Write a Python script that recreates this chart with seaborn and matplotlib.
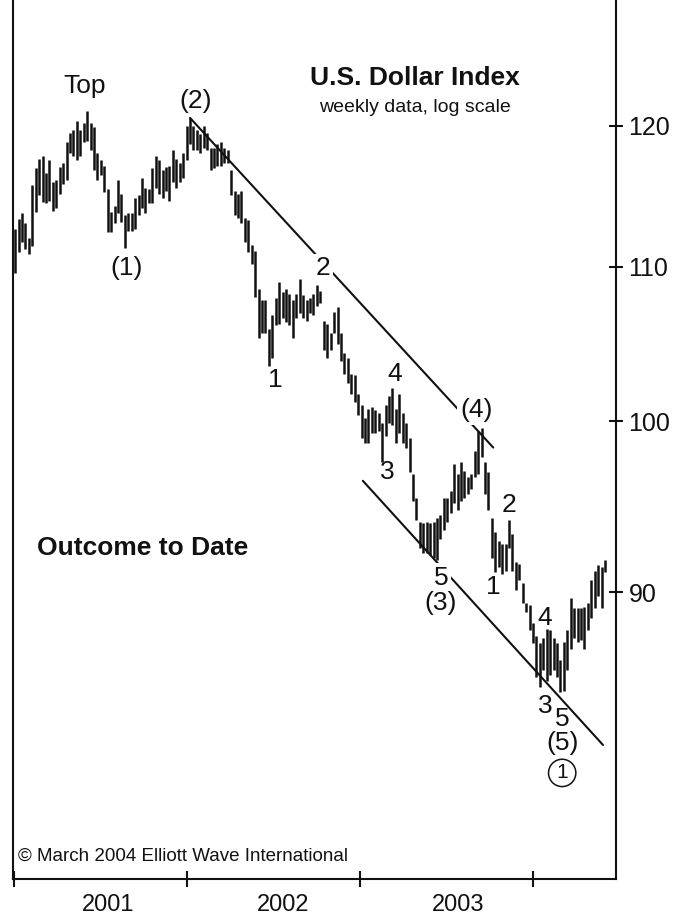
import numpy as np
import pandas as pd
import seaborn as sns
import matplotlib
matplotlib.use("Agg")
import matplotlib.pyplot as plt

sns.set_theme(style="ticks")
plt.rcParams["font.family"] = ["Liberation Sans", "DejaVu Sans"]

# weekly high / low of the U.S. Dollar Index
week_high = [
    112.6, 113.3, 113.7, 113.0, 112.0, 115.7, 116.9, 117.6, 117.8, 116.6,
    117.5, 115.9, 116.1, 117.0, 117.3, 118.8, 119.5, 119.7, 120.4, 119.7,
    120.2, 121.1, 120.2, 119.9, 118.0, 117.5, 117.1, 115.4, 113.8, 114.2,
    116.1, 115.1, 113.6, 113.7, 113.7, 114.8, 115.0, 116.2, 115.5, 115.4,
    116.9, 117.8, 117.5, 116.8, 117.0, 117.1, 118.2, 117.6, 117.3, 118.0,
    120.0, 120.6, 120.0, 119.7, 119.4, 120.0, 119.5, 118.4, 118.4, 118.7,
    118.8, 118.4, 118.2, 116.8, 115.3, 115.1, 115.3, 113.4, 113.2, 111.5,
    111.1, 108.5, 107.8, 107.8, 105.9, 106.8, 107.9, 109.0, 108.3, 108.5,
    108.2, 107.8, 108.2, 109.2, 108.1, 107.8, 107.9, 108.2, 108.8, 108.4,
    106.4, 106.2, 105.6, 107.0, 107.3, 105.6, 104.3, 104.0, 103.0, 102.9,
    101.7, 101.0, 100.2, 100.8, 100.9, 100.7, 100.5, 99.9, 101.0, 101.6,
    102.1, 100.8, 101.7, 100.5, 99.9, 99.0, 96.8, 95.4, 94.0, 93.9,
    94.0, 93.9, 94.0, 94.2, 94.4, 95.4, 95.4, 95.8, 97.4, 96.8,
    97.5, 97.0, 96.6, 96.8, 98.2, 99.4, 99.6, 97.5, 96.9, 94.2,
    93.4, 92.9, 92.7, 92.7, 94.1, 93.3, 91.7, 91.6, 90.5, 89.4,
    89.3, 88.3, 87.6, 87.2, 87.5, 88.0, 87.9, 87.5, 87.2, 86.3,
    87.3, 87.9, 89.7, 89.1, 89.1, 89.1, 89.2, 89.4, 90.7, 91.2,
    91.5, 91.4, 91.8,
]
week_low = [
    109.6, 111.0, 111.7, 111.2, 110.9, 111.4, 113.8, 115.0, 114.5, 114.4,
    114.6, 113.9, 114.1, 115.1, 115.8, 116.1, 118.0, 117.8, 117.5, 117.8,
    118.8, 118.9, 118.2, 116.8, 116.1, 116.4, 115.2, 112.4, 112.4, 113.0,
    113.7, 113.1, 111.3, 112.5, 112.5, 112.6, 113.6, 114.1, 113.7, 114.4,
    114.4, 115.5, 115.1, 114.8, 115.3, 114.6, 115.9, 115.5, 115.9, 116.2,
    117.5, 118.7, 118.2, 118.2, 118.0, 118.4, 118.2, 116.8, 116.9, 117.1,
    117.1, 117.3, 117.3, 115.0, 113.6, 113.4, 113.0, 111.7, 111.0, 110.2,
    108.0, 105.3, 105.6, 105.6, 103.5, 104.0, 106.1, 106.2, 106.6, 106.3,
    106.1, 105.3, 106.6, 106.9, 106.6, 106.4, 106.9, 106.8, 107.4, 107.6,
    104.5, 104.0, 104.5, 105.6, 104.9, 103.8, 103.0, 102.4, 101.7, 101.2,
    100.4, 99.0, 98.7, 98.7, 99.3, 99.3, 99.4, 97.5, 99.1, 99.9,
    99.8, 98.7, 99.3, 98.7, 98.4, 96.9, 95.2, 94.1, 92.5, 92.2,
    92.2, 92.1, 91.9, 91.8, 93.0, 93.5, 94.0, 94.5, 95.1, 94.7,
    95.2, 95.4, 95.6, 95.9, 96.6, 96.8, 97.8, 95.6, 94.7, 91.9,
    91.1, 91.4, 91.0, 91.2, 92.5, 91.2, 90.1, 90.7, 89.4, 88.9,
    87.9, 87.2, 85.4, 84.9, 85.8, 85.2, 85.5, 85.8, 85.4, 84.6,
    84.7, 85.8, 86.9, 87.5, 87.3, 87.4, 86.9, 87.9, 88.6, 89.1,
    89.8, 89.1, 91.1,
]

year_labels = ["2001", "2002", "2003"]
year_edges = [-0.2, 50.2, 100.6, 151.0]
year_mids = [27.1, 78.1, 129.2]
price_ticks = [90, 100, 110, 120]

# Elliott wave channel lines (week, level)
upper_weeks = [51.0, 139.4]
upper_levels = [120.6, 98.4]
lower_weeks = [101.4, 171.4]
lower_levels = [96.4, 81.9]

wave_text = ["Top", "(1)", "(2)", "1", "2", "3", "4", "5", "(3)",
             "(4)", "1", "2", "3", "4", "5", "(5)"]
wave_week = [20.4, 32.4, 52.5, 75.8, 89.8, 108.5, 110.8, 124.2, 123.9,
             134.4, 139.4, 144.0, 154.5, 154.5, 159.5, 159.5]
wave_level = [123.0, 109.9, 121.9, 102.6, 109.9, 96.9, 103.0, 90.8, 89.4,
              100.7, 90.3, 95.0, 83.9, 88.6, 83.2, 82.0]
on_line = {"2": 89.8, "(4)": 134.4, "5": 124.2}

df = pd.DataFrame({"high": week_high, "low": week_low})
df["week"] = np.arange(len(df))

fig = plt.figure(figsize=(6.89, 9.18), dpi=100)
ax = fig.add_axes([0.0189, 0.0425, 0.8752, 0.9575])

ax.vlines(df["week"], df["low"], df["high"], color="#111111", lw=1.8)
sns.lineplot(x=upper_weeks, y=upper_levels, ax=ax, color="#111111", lw=1.5)
sns.lineplot(x=lower_weeks, y=lower_levels, ax=ax, color="#111111", lw=1.5)

ax.set_yscale("log")
ax.set_ylim(75.4, 129.7)
ax.set_xlim(-0.6, 175.2)

# price axis on the right
ax.yaxis.tick_right()
ax.set_yticks(price_ticks, labels=[str(t) for t in price_ticks])
ax.minorticks_off()
ax.tick_params(axis="y", which="major", direction="inout", length=10,
               width=1.5, labelsize=18, pad=4, right=True, left=False,
               colors="#111111")

# years along the bottom
ax.set_xticks(year_edges, labels=[""] * len(year_edges))
ax.set_xticks(year_mids, labels=year_labels, minor=True)
ax.tick_params(axis="x", which="major", direction="inout", length=12,
               width=1.5, color="#111111")
ax.tick_params(axis="x", which="minor", length=0, labelsize=17, pad=11,
               labelcolor="#111111")

for side in ["left", "right", "bottom"]:
    ax.spines[side].set_linewidth(1.5)
    ax.spines[side].set_color("#111111")
ax.spines["top"].set_visible(False)
ax.grid(False)

for txt, wk, lvl in zip(wave_text, wave_week, wave_level):
    box = None
    if txt in on_line and abs(on_line[txt] - wk) < 0.01:
        box = dict(boxstyle="square,pad=0.1", fc="white", ec="none")
    ax.text(wk, lvl, txt, fontsize=19, ha="center", va="center",
            color="#111111", bbox=box)

# circled wave one
ax.text(159.5, 80.5, "1", fontsize=15, ha="center", va="center",
        color="#111111",
        bbox=dict(boxstyle="circle,pad=0.2", fc="none", ec="#111111", lw=1.1))

ax.text(0.667, 0.911, "U.S. Dollar Index", transform=ax.transAxes,
        fontsize=19, fontweight="bold", ha="center", va="center",
        color="#111111")
ax.text(0.667, 0.878, "weekly data, log scale", transform=ax.transAxes,
        fontsize=14, ha="center", va="center", color="#111111")
ax.text(0.04, 0.3766, "Outcome to Date", transform=ax.transAxes,
        fontsize=19, fontweight="bold", ha="left", va="center",
        color="#111111")
ax.text(0.008, 0.0262, "\u00a9 March 2004 Elliott Wave International",
        transform=ax.transAxes, fontsize=13.5, ha="left", va="center",
        color="#111111")

fig.savefig("out.png", dpi=100, facecolor="white")
